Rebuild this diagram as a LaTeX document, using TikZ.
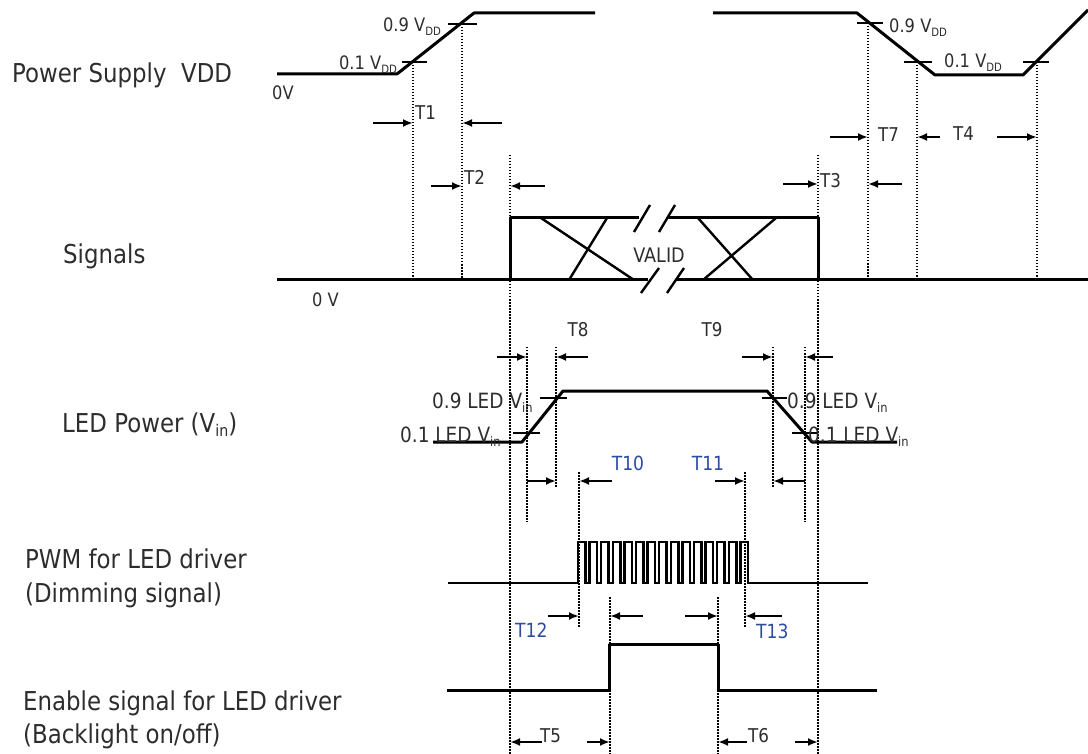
\documentclass[tikz,border=0pt]{standalone}
\usepackage{fontspec}
\setmainfont{DejaVu Sans}[FakeStretch=0.88]
\usepackage{graphicx}
\usetikzlibrary{arrows.meta}
\definecolor{txt}{RGB}{45,45,45}
\definecolor{tblue}{RGB}{45,75,160}
\newcommand{\lowtxt}[1]{\raisebox{-0.35ex}{\scalebox{0.62}{#1}}}
\begin{document}
\begin{tikzpicture}[x=1pt,y=-1pt,
  wave/.style={line width=3pt, line join=round},
  tickmark/.style={line width=2.6pt},
  xline/.style={line width=2.4pt},
  guide/.style={line width=2pt, dash pattern=on 1.5pt off 1.5pt},
  arr/.style={line width=2.2pt,-{Latex[length=10pt,width=8pt]}},
  big/.style={font=\fontsize{26}{30}\selectfont, text=txt, inner sep=0pt},
  lbl/.style={font=\fontsize{18.5}{21}\selectfont, text=txt, inner sep=0pt},
  ledl/.style={font=\fontsize{21}{24}\selectfont, text=txt, inner sep=0pt},
  tl/.style={font=\fontsize{19}{22}\selectfont, text=txt, inner sep=0pt},
  tb/.style={font=\fontsize{19.5}{22}\selectfont, text=tblue, inner sep=0pt}]
\useasboundingbox (0,0) rectangle (1088,754);

% left labels
\node[big, anchor=base west] (lps) at (12,83) {Power Supply\ \ VDD};
\node[big, anchor=base west] (lsig) at (63,264) {Signals};
\node[big, anchor=base west] (lled) at (62,432) {LED Power (V\lowtxt{in})};
\node[big, anchor=base west] (lpwm1) at (25,568) {PWM for LED driver};
\node[big, anchor=base west] (lpwm2) at (25,602) {(Dimming signal)};
\node[big, anchor=base west] (len1) at (23,710) {Enable signal for LED driver};
\node[big, anchor=base west] (len2) at (23,743) {(Backlight on/off)};

% dotted guides
\foreach \x/\a/\b in {413/62/280, 462/24/280, 510/155/754, 818/155/754,
  868/23/280, 917/62/280, 1037/62/280, 527/347/522, 556/347/487,
  773/347/487, 805/347/522, 579/472/628, 745/472/628, 610/597/754, 718/597/754}
  \draw[guide] (\x,\a) -- (\x,\b);

% power supply VDD
\draw[wave] (277,74) -- (397,74) -- (474,13) -- (595,13);
\draw[tickmark] (402,62) -- (427,62) (448,24) -- (477,24);
\draw[wave] (713,13) -- (857,13) -- (935,75) -- (1023,75) -- (1088,10);
\draw[tickmark] (857,23) -- (883,23) (904,62) -- (932,62) (1023,62) -- (1049,62);
\node[lbl, anchor=base east] (v9a) at (441,32) {0.9 V\lowtxt{DD}};
\node[lbl, anchor=base east] (v1a) at (397,70) {0.1 V\lowtxt{DD}};
\node[lbl, anchor=base west] (zv1) at (272,100) {0V};
\node[lbl, anchor=base west] (v9b) at (889,33) {0.9 V\lowtxt{DD}};
\node[lbl, anchor=base west] (v1b) at (944,68) {0.1 V\lowtxt{DD}};

% T1 T2 T3 T4 T7
\node[tl, anchor=base west] (t1) at (415,120) {T1};
\draw[arr] (373,123) -- (413,123);
\draw[arr] (502,123) -- (462,123);
\node[tl, anchor=base west] (t2) at (464,185) {T2};
\draw[arr] (431,186) -- (462,186);
\draw[arr] (545,186) -- (510,186);
\node[tl, anchor=base west] (t7) at (878,142) {T7};
\draw[arr] (830,137) -- (868,137);
\node[tl, anchor=base west] (t4) at (953,141) {T4};
\draw[arr] (940,137) -- (917,137);
\draw[arr] (997,137) -- (1037,137);
\node[tl, anchor=base west] (t3) at (820,188) {T3};
\draw[arr] (783,184) -- (818,184);
\draw[arr] (902,184) -- (868,184);

% signals
\draw[wave] (277,280) -- (648,280);
\draw[wave] (676,280) -- (1088,280);
\draw[wave] (639,218) -- (510,218) -- (510,280);
\draw[wave] (667,218) -- (818,218) -- (818,280);
\draw[xline] (541,218) -- (634,280) (607,218) -- (569,280)
             (698,218) -- (753,280) (776,218) -- (703,280);
\draw[xline] (634,232) -- (650,205) (659,232) -- (675,205)
             (641,293) -- (659,268) (667,293) -- (684,268);
\node[font=\fontsize{20}{22}\selectfont, text=txt, inner sep=0pt] (valid) at (659,255) {VALID};
\node[lbl, anchor=base west] (zv2) at (312,307) {0 V};

% LED power
\draw[wave] (433,442) -- (522,442) -- (563,391) -- (767,391) -- (812,442) -- (897,442);
\draw[tickmark] (513,433) -- (540,433) (540,398) -- (567,398)
                (762,398) -- (787,398) (792,433) -- (817,433);
\node[ledl, anchor=base west] (l9a) at (432,408) {0.9 LED V\lowtxt{in}};
\node[ledl, anchor=base west] (l1a) at (400,442) {0.1 LED V\lowtxt{in}};
\node[ledl, anchor=base west] (l9b) at (787,408) {0.9 LED V\lowtxt{in}};
\node[ledl, anchor=base west] (l1b) at (808,442) {0.1 LED V\lowtxt{in}};
\node[tl, anchor=base] (t8) at (578,337) {T8};
\node[tl, anchor=base] (t9) at (712,337) {T9};
\draw[arr] (497,357) -- (527,357);
\draw[arr] (588,357) -- (556,357);
\draw[arr] (742,357) -- (773,357);
\draw[arr] (833,357) -- (805,357);
\node[tb, anchor=base] (t10) at (628,470) {T10};
\node[tb, anchor=base] (t11) at (708,470) {T11};
\draw[arr] (527,481) -- (556,481);
\draw[arr] (612,481) -- (579,481);
\draw[arr] (715,481) -- (745,481);
\draw[arr] (805,481) -- (773,481);

% PWM
\draw[wave, line width=2.5pt, line join=miter] (448,583) -- (578,583)
  foreach \k in {0,...,14} {
    -- ({578+\k*11.6},542) -- ({585.5+\k*11.6},542)
    -- ({585.5+\k*11.6},583) -- ({589.6+\k*11.6},583) }
  -- (868,583);
\node[tb, anchor=base west] (t12) at (515,637) {T12};
\draw[arr] (548,616) -- (579,616);
\draw[arr] (643,616) -- (610,616);
\draw[arr] (685,616) -- (718,616);
\node[tb, anchor=base west] (t13) at (756,638) {T13};
\draw[arr] (782,616) -- (745,616);

% enable
\draw[wave] (447,690) -- (609,690) -- (609,644) -- (718,644) -- (718,690) -- (877,690);
\node[tl, anchor=base west] (t5) at (540,742) {T5};
\draw[arr] (542,742) -- (510,742);
\draw[arr] (587,742) -- (610,742);
\node[tl, anchor=base west] (t6) at (748,742) {T6};
\draw[arr] (747,742) -- (718,742);
\draw[arr] (795,742) -- (818,742);
\end{tikzpicture}
\end{document}
